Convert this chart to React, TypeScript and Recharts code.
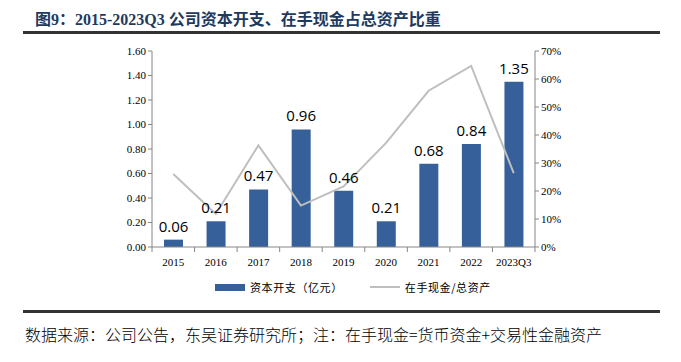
import React from "react";
import {
  ComposedChart,
  Bar,
  Line,
  XAxis,
  YAxis,
  LabelList,
} from "recharts";

const years = ["2015", "2016", "2017", "2018", "2019", "2020", "2021", "2022", "2023Q3"];
const capex = [0.06, 0.21, 0.47, 0.96, 0.46, 0.21, 0.68, 0.84, 1.35];
const cashRatio = [0.261, 0.118, 0.363, 0.148, 0.216, 0.372, 0.558, 0.647, 0.264];
const leftTicks = [0, 0.2, 0.4, 0.6, 0.8, 1.0, 1.2, 1.4, 1.6];
const rightTicks = [0, 0.1, 0.2, 0.3, 0.4, 0.5, 0.6, 0.7];

const data = years.map((y, i) => ({ year: y, capex: capex[i], cash: cashRatio[i] }));

const BAR = "#36609A";
const LINE = "#BFBFBF";
const AXIS = "#868686";
const serif = '"Liberation Serif", "Times New Roman", serif';
const cjk = '"Liberation Serif", "Noto Sans CJK SC", serif';

const PLOT_LEFT = 152;
const PLOT_RIGHT = 535;
const STEP = (PLOT_RIGHT - PLOT_LEFT) / years.length;

function XTick({ x, y, payload, index }: any) {
  const last = index === years.length - 1;
  return (
    <g>
      <line x1={x - STEP / 2} x2={x - STEP / 2} y1={y - 8} y2={y - 3} stroke={AXIS} />
      {last && <line x1={x + STEP / 2} x2={x + STEP / 2} y1={y - 8} y2={y - 3} stroke={AXIS} />}
      <text x={x} y={y + 11} textAnchor="middle" fontSize={11} fontFamily={serif} fill="#000">
        {payload.value}
      </text>
    </g>
  );
}

export default function App() {
  return (
    <div style={{ position: "absolute", left: 0, top: 0, width: 681, height: 362, background: "#fff" }}>
      <div
        style={{
          position: "absolute",
          left: 35,
          top: 6,
          fontFamily: cjk,
          fontWeight: 700,
          fontSize: 16,
          color: "#1F3A5F",
          whiteSpace: "nowrap",
        }}
      >
        图9：2015-2023Q3 公司资本开支、在手现金占总资产比重
      </div>
      <div style={{ position: "absolute", left: 23, top: 31, width: 637, height: 3, background: "#333" }} />

      <div style={{ position: "absolute", left: 0, top: 0 }}>
        <ComposedChart
          width={681}
          height={362}
          data={data}
          margin={{ top: 51, right: 96, bottom: 85, left: 102 }}
        >
          <XAxis
            dataKey="year"
            axisLine={{ stroke: AXIS }}
            tickLine={false}
            tick={<XTick />}
            interval={0}
            height={30}
          />
          <YAxis
            yAxisId="left"
            width={50}
            domain={[0, 1.6]}
            ticks={leftTicks}
            tickFormatter={(v: number) => v.toFixed(2)}
            axisLine={{ stroke: AXIS }}
            tickLine={{ stroke: AXIS }}
            tickSize={4}
            tick={{ fontSize: 11, fontFamily: serif, fill: "#000" }}
            interval={0}
          />
          <YAxis
            yAxisId="right"
            orientation="right"
            width={50}
            domain={[0, 0.7]}
            ticks={rightTicks}
            tickFormatter={(v: number) => `${Math.round(v * 100)}%`}
            axisLine={{ stroke: AXIS }}
            tickLine={{ stroke: AXIS }}
            tickSize={4}
            tick={{ fontSize: 11, fontFamily: serif, fill: "#000" }}
            interval={0}
          />
          <Bar yAxisId="left" dataKey="capex" fill={BAR} barSize={19} isAnimationActive={false}>
            <LabelList
              dataKey="capex"
              position="top"
              offset={8}
              formatter={(v: any) => Number(v).toFixed(2)}
              style={{ fontSize: 15, fontFamily: '"Open Sans", sans-serif', fill: "#000" }}
            />
          </Bar>
          <Line
            yAxisId="right"
            dataKey="cash"
            stroke={LINE}
            strokeWidth={2}
            dot={false}
            isAnimationActive={false}
          />
        </ComposedChart>
      </div>

      <div
        style={{
          position: "absolute",
          left: 215,
          top: 279,
          display: "flex",
          alignItems: "center",
          fontFamily: '"Noto Sans CJK SC", sans-serif',
          fontSize: 11,
          color: "#000",
          whiteSpace: "nowrap",
        }}
      >
        <span style={{ display: "inline-block", width: 30, height: 7, background: BAR, marginRight: 5 }} />
        <span style={{ letterSpacing: 0.6 }}>资本开支（亿元）</span>
        <span style={{ display: "inline-block", width: 30, height: 2, background: LINE, marginLeft: 27, marginRight: 5 }} />
        <span style={{ letterSpacing: 0.6 }}>在手现金/总资产</span>
      </div>

      <div style={{ position: "absolute", left: 23, top: 310, width: 637, height: 3, background: "#333" }} />
      <div
        style={{
          position: "absolute",
          left: 25,
          top: 322,
          fontFamily: '"Noto Sans CJK SC", sans-serif',
          fontSize: 16,
          fontWeight: 300,
          color: "#000",
          whiteSpace: "nowrap",
        }}
      >
        数据来源：公司公告，东吴证券研究所；注：在手现金=货币资金+交易性金融资产
      </div>
    </div>
  );
}
